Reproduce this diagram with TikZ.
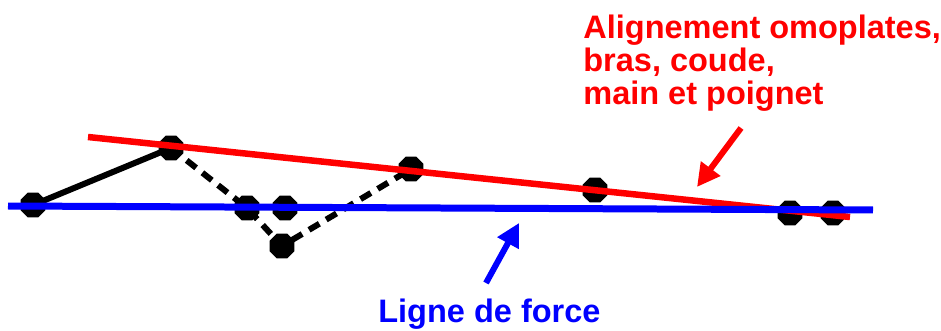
\documentclass[tikz,border=0pt]{standalone}
\usepackage{fontspec}
\setmainfont{Liberation Sans}
\usetikzlibrary{arrows.meta,shapes.geometric}

\begin{document}
\begin{tikzpicture}[x=0.02cm,y=-0.02cm,>={Triangle[length=0.46cm,width=0.46cm]}]
\tikzstyle{dot}=[regular polygon,regular polygon sides=8,fill=black,inner sep=0pt,minimum size=0.54cm]
\tikzstyle{lbl}=[anchor=base west,align=left,inner sep=0pt,font=\bfseries\fontsize{18.5}{19}\selectfont]
\useasboundingbox (0,0) rectangle (941,331);
% joints
\node[dot] (p1) at (33,205) {};
\node[dot] (p2) at (171,148) {};
\node[dot] (p3) at (247,208) {};
\node[dot] (p4) at (285,208) {};
\node[dot] (p5) at (282,246) {};
\node[dot] (p6) at (411,169) {};
\node[dot] (p7) at (595,190) {};
\node[dot] (p8) at (790,213) {};
\node[dot] (p9) at (833,213) {};
\draw[line width=0.12cm] (p1.center) -- (p2.center);
\draw[line width=0.12cm,dash pattern=on 0.24cm off 0.16cm] (p2.center) -- (p3.center) -- (p5.center) -- (p6.center);
% reference lines
\coordinate (r1) at (88,137);
\coordinate (r2) at (850,217);
\coordinate (b1) at (8,206);
\coordinate (b2) at (873,210);
\draw[red,line width=0.13cm] (r1) -- (r2);
\draw[blue,line width=0.14cm] (b1) -- (b2);
% labels
\node[lbl,red] (align) at (583,105) {Alignement omoplates,\\bras, coude,\\main et poignet};
\node[lbl,blue] (force) at (378,322) {Ligne de force};
\coordinate (ra) at (741,128);
\coordinate (rb) at (697,187);
\coordinate (ba) at (486,283);
\coordinate (bb) at (519,223);
\draw[->,red,line width=0.12cm] (ra) -- (rb);
\draw[->,blue,line width=0.12cm] (ba) -- (bb);
\end{tikzpicture}
\end{document}
